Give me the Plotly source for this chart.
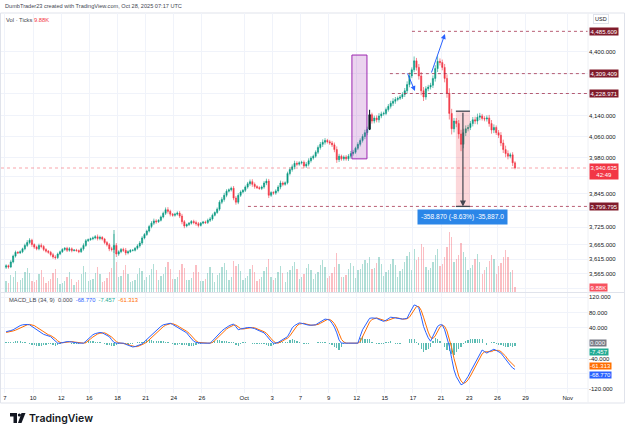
import math
import plotly.graph_objects as go

# ---------------- data ----------------
# x unit = trading day (weekends removed), day 0 = session of Sep 7/8
tick_days = [0, 2, 4, 6, 8, 10, 12, 14, 17, 19, 21, 23, 25, 27, 29, 31, 33, 35, 37, 40]
tick_labels = ["7", "10", "12", "16", "18", "21", "24", "26", "Oct", "3", "7", "9",
               "12", "15", "17", "21", "23", "26", "29", "Nov"]
bars_per_day = 6
first_open = 3587

close = [
    3592, 3588, 3605, 3625, 3638, 3636,
    3640, 3650, 3662, 3672, 3680, 3665,
    3656, 3650, 3662, 3658, 3648, 3642,
    3638, 3630, 3622, 3620, 3632, 3640,
    3648, 3652, 3645, 3650, 3644, 3646,
    3644, 3640, 3650, 3662, 3678, 3682,
    3685, 3688, 3692, 3686, 3690, 3684,
    3672, 3664, 3650, 3648, 3662, 3632,
    3640, 3648, 3645, 3636, 3640, 3645,
    3645, 3652, 3660, 3670, 3688, 3700,
    3712, 3728, 3740, 3748, 3745, 3750,
    3762, 3775, 3788, 3782, 3772, 3768,
    3772, 3776, 3765, 3745, 3730, 3735,
    3740, 3746, 3742, 3738, 3732, 3740,
    3744, 3742, 3750, 3755, 3768, 3778,
    3790, 3815, 3825, 3840, 3855, 3860,
    3866, 3830, 3815, 3840, 3852, 3858,
    3870, 3882, 3890, 3880, 3872, 3868,
    3865, 3870, 3885, 3892, 3840, 3850,
    3848, 3856, 3870, 3885, 3880, 3886,
    3920, 3935, 3945, 3958, 3955, 3960,
    3962, 3948, 3955, 3968, 3978, 3985,
    4000, 4018, 4030, 4038, 4045, 4040,
    4035, 4028, 4010, 3972, 3985, 3975,
    3982, 3975, 3985, 3995, 4000, 4015,
    4030, 4045, 4060, 4075, 4088, 4145,
    4120, 4132, 4125, 4140, 4148, 4150,
    4165, 4178, 4190, 4198, 4205, 4210,
    4215, 4225, 4240, 4265, 4300, 4325,
    4362, 4335, 4300, 4240, 4215, 4248,
    4255, 4262, 4290, 4330, 4360, 4355,
    4335, 4290, 4230, 4150, 4090, 4120,
    4110, 4070, 4030, 4075, 4090, 4095,
    4110, 4125, 4120, 4135, 4140, 4130,
    4128, 4132, 4110, 4085, 4095, 4075,
    4065, 4035, 4010, 3995, 3985, 3990,
    3960, 3940.635,
]
upper_wick = [
    5, 4, 6, 5, 6, 4,   5, 4, 6, 8, 7, 5,   4, 5, 6, 7, 5, 4,   4, 5, 6, 6, 5, 4,
    4, 4, 5, 6, 5, 3,   4, 4, 5, 7, 6, 4,   4, 5, 6, 8, 6, 4,   4, 5, 6, 7, 40, 8,
    5, 5, 6, 8, 5, 4,   4, 4, 6, 7, 6, 5,   5, 6, 7, 8, 6, 4,   5, 6, 8, 9, 6, 4,
    5, 6, 7, 8, 6, 4,   4, 5, 6, 7, 6, 4,   4, 5, 6, 7, 6, 4,   6, 7, 8, 9, 7, 5,
    6, 8, 7, 8, 6, 5,   6, 7, 8, 9, 7, 5,   5, 6, 7, 9, 8, 5,   5, 6, 7, 9, 6, 5,
    7, 8, 9, 10, 8, 6,  6, 7, 8, 9, 7, 6,   7, 8, 9, 11, 9, 6,  7, 8, 9, 12, 9, 6,
    6, 7, 8, 10, 9, 6,  8, 8, 9, 11, 10, 19, 8, 9, 10, 11, 9, 7, 8, 9, 10, 12, 10, 7,
    8, 9, 11, 13, 14, 10, 18, 12, 14, 16, 15, 10, 9, 10, 12, 14, 21, 12,
    12, 14, 16, 20, 18, 12, 12, 14, 16, 15, 13, 10, 10, 11, 12, 14, 12, 8,
    9, 10, 12, 14, 12, 8, 10, 12, 13, 15, 12, 8, 10, 6,
]
lower_wick = [
    6, 6, 4, 5, 5, 4,   4, 5, 5, 6, 6, 8,   6, 5, 5, 6, 6, 5,   5, 6, 6, 7, 5, 4,
    4, 5, 6, 5, 6, 3,   4, 5, 4, 6, 5, 4,   4, 5, 5, 7, 6, 5,   6, 6, 8, 7, 12, 10,
    6, 5, 6, 8, 5, 4,   4, 4, 5, 6, 6, 5,   5, 5, 6, 7, 7, 4,   4, 5, 6, 8, 8, 5,
    5, 5, 7, 9, 8, 5,   5, 5, 6, 7, 7, 4,   4, 5, 5, 6, 6, 4,   5, 6, 7, 8, 7, 5,
    6, 8, 9, 7, 6, 5,   6, 6, 7, 9, 8, 5,   5, 6, 6, 8, 10, 6,  6, 6, 6, 8, 7, 5,
    6, 7, 8, 9, 8, 6,   6, 8, 7, 8, 7, 6,   6, 7, 8, 10, 9, 7,  7, 8, 10, 12, 9, 7,
    7, 7, 8, 9, 8, 6,   7, 8, 8, 10, 10, 3, 10, 9, 10, 11, 9, 7, 7, 8, 9, 11, 10, 7,
    7, 8, 10, 12, 11, 9, 10, 13, 15, 18, 16, 11, 10, 10, 11, 13, 14, 12,
    12, 16, 18, 24, 22, 14, 14, 18, 26, 15, 13, 10, 10, 11, 12, 13, 12, 8,
    9, 10, 12, 14, 12, 9, 11, 12, 13, 14, 12, 8, 12, 5,
]
volume_k = [
    22, 18, 35, 30, 42, 20,   25, 28, 40, 48, 38, 22,   20, 24, 36, 44, 30, 18,
    22, 26, 38, 46, 28, 16,   18, 22, 30, 40, 26, 14,   20, 24, 36, 52, 40, 22,
    24, 26, 38, 50, 36, 20,   22, 28, 40, 48, 125, 60,  30, 32, 44, 54, 36, 20,
    22, 24, 36, 48, 42, 24,   30, 34, 46, 56, 44, 24,   32, 36, 50, 60, 46, 26,
    26, 30, 44, 56, 48, 24,   24, 28, 40, 54, 40, 22,   22, 26, 38, 50, 38, 20,
    34, 38, 50, 58, 44, 24,   30, 62, 52, 56, 42, 24,   28, 32, 46, 54, 40, 22,
    26, 30, 42, 50, 66, 30,   24, 28, 40, 52, 38, 20,   40, 44, 52, 60, 46, 26,
    30, 36, 48, 56, 44, 26,   36, 40, 54, 64, 50, 28,   32, 38, 50, 78, 56, 30,
    30, 34, 46, 58, 52, 28,   44, 46, 56, 64, 58, 70,   46, 48, 58, 70, 56, 32,
    40, 44, 56, 66, 54, 30,   42, 46, 60, 72, 80, 44,   86, 64, 70, 96, 90, 50,
    44, 48, 60, 74, 86, 52,   56, 70, 90, 120, 110, 60, 66, 74, 98, 80, 70, 44,
    48, 54, 66, 76, 60, 36,   44, 50, 62, 74, 66, 36,   52, 58, 70, 84, 70, 40,
    44, 9.88,
]
macd = [
    30, 31, 33, 35, 39, 43,   46, 48, 49, 49, 48, 44,   40, 35, 30, 26, 23, 21,
    19, 17, 11, 5, 0, 0,      2, 3, 4, 4, 3, 2,        0, 0, 0, 0, 5, 11,
    17, 22, 25, 27, 28, 27,   24, 20, 17, 9, 2, 0,     0, 0, 0, -3, -6, -8,
    -10, -9, -7, -4, -2, 4,   10, 16, 22, 27, 33, 38,  44, 48, 50, 52, 52, 49,
    45, 42, 39, 35, 31, 27,   19, 11, 5, 2, 0, 0,      0, 0, 0, 0, 6, 13,
    20, 27, 32, 37, 42, 45,   48, 50, 43, 35, 37, 39,  40, 41, 41, 40, 38, 35,
    32, 30, 27, 20, 12, 5,    0, 0, 2, 6, 10, 13,      17, 28, 40, 46, 50, 53,
    52, 50, 48, 47, 47, 48,   48, 52, 56, 60, 63, 62,  60, 52, 42, 27, 8, 0,
    0, 0, 0, 0, 0, 0,         0, 18, 35, 45, 56, 65,   66, 66, 65, 62, 59, 57,
    60, 64, 68, 67, 66, 64,   63, 63, 64, 65, 78, 90,  100, 98, 92, 70, 44, 28,
    14, 5, 18, 32, 44, 48,    48, 35, 14, -8, -40, -70,
    -88, -100, -109, -106, -97, -87,  -75, -63, -51, -39, -28, -18,
    -22, -26, -22, -19, -16, -19,     -23, -26, -34, -43, -52, -58,
    -65, -68.770,
]
signal = [
    28, 29, 30, 32, 34, 37,   40, 44, 46, 48, 49, 48,  46, 42, 38, 33, 29, 25,
    22, 20, 17, 12, 6, 2,     1, 2, 3, 4, 4, 3,        2, 1, 0, 0, 1, 5,
    11, 16, 21, 24, 26, 27,   27, 24, 21, 16, 10, 4,   1, 0, 0, -1, -3, -6,
    -8, -9, -9, -7, -4, -1,   3, 9, 15, 21, 27, 32,    38, 43, 47, 50, 51, 51,
    49, 46, 42, 39, 35, 31,   26, 19, 12, 6, 2, 1,     0, 0, 0, 0, 2, 7,
    13, 20, 26, 32, 37, 41,   44, 47, 47, 42, 38, 37,  38, 40, 41, 41, 40, 38,
    35, 32, 30, 26, 20, 12,   5, 1, 0, 2, 6, 10,       13, 19, 28, 38, 45, 50,
    52, 52, 50, 48, 47, 47,   48, 49, 52, 56, 60, 62,  62, 58, 51, 40, 25, 10,
    3, 0, 0, 0, 0, 0,         0, 4, 17, 33, 45, 55,    62, 65, 66, 64, 62, 59,
    58, 60, 63, 66, 67, 66,   64, 63, 63, 64, 68, 78,  89, 96, 96, 86, 68, 47,
    29, 15, 12, 19, 32, 42,   47, 44, 32, 13, -12, -40,
    -66, -86, -99, -105, -103, -96,  -86, -75, -63, -51, -39, -28,
    -23, -22, -23, -22, -19, -18,    -19, -22, -27, -34, -43, -50,
    -56, -61.313,
]
highlighted_bar = 155            # the black candle

price_ticks = [4400, 4310, 4230, 4140, 4060, 3980, 3910, 3845, 3785, 3725, 3665, 3615, 3565, 3515]
price_ticks_hidden = [4310, 4230, 3910, 3785, 3515]   # covered by price boxes: grid only
macd_ticks = [120, 80, 40, -40, -80, -120]
macd_ticks_hidden = [-80]

level_prices = [4485.609, 4309.409, 4228.971, 3799.795]
level_start_days = [28.93, 27.36, 27.5, 17.27]
last_price = 3940.635
countdown = "42:49"
last_volume = "9.88K"
legend_values = ["0.000", "-68.770", "-7.457", "-61.313"]

zone_days = [24.66, 25.73]
zone_prices = [3975, 4386]
range_days = [32.05, 33.05]
range_prices = [4158.665, 3799.795]
range_arrow_day = 32.55
range_label = "-358.870 (-8.63%) -35,887.0"
range_label_price = 3763
arrow_lines = [((28.57, 4316), (29.14, 4239)), ((30.28, 4308), (31.27, 4474))]

# ---------------- geometry ----------------
W, H = 625, 433
L, R, T, B = 1, 37, 13, 40
PW, PH = W - L - R, H - T - B


def xp(px):
    return (px - L) / PW


def yp(py):
    return (H - B - py) / PH


x_range = [-0.28, 41.44]
price_log_range = [3.544527, 3.659372]
macd_range = [-130.5, 131.3]
vol_range = [0, 560]

UP, DOWN = "#089981", "#f23645"
FONT = "Liberation Sans, Arial, sans-serif"
TXT = "#131722"

n = min(len(close), len(upper_wick), len(lower_wick), len(volume_k), len(macd), len(signal))
xb = [k / bars_per_day + 0.5 / bars_per_day for k in range(n)]
opens = [first_open] + close[:n - 1]
highs = [max(opens[k], close[k]) + upper_wick[k] for k in range(n)]
lows = [min(opens[k], close[k]) - lower_wick[k] for k in range(n)]
hist = [macd[k] - signal[k] for k in range(n)]
bw = 0.55 / bars_per_day

fig = go.Figure()

# volume
vcol = ["rgba(8,153,129,0.32)" if close[k] >= opens[k] else "rgba(242,54,69,0.32)" for k in range(n)]
fig.add_trace(go.Bar(x=xb, y=volume_k[:n], width=bw, marker=dict(color=vcol, line=dict(width=0)),
                     xaxis="x", yaxis="y3", hoverinfo="skip"))

# zone rectangle (purple)
fig.add_trace(go.Scatter(x=[zone_days[0], zone_days[1], zone_days[1], zone_days[0], zone_days[0]],
                         y=[zone_prices[0], zone_prices[0], zone_prices[1], zone_prices[1], zone_prices[0]],
                         mode="lines", fill="toself", fillcolor="rgba(156,39,176,0.2)",
                         line=dict(color="#9c27b0", width=1), xaxis="x", yaxis="y", hoverinfo="skip"))
# price range box
fig.add_trace(go.Scatter(x=[range_days[0], range_days[1], range_days[1], range_days[0], range_days[0]],
                         y=[range_prices[0], range_prices[0], range_prices[1], range_prices[1], range_prices[0]],
                         mode="lines", fill="toself", fillcolor="rgba(242,54,69,0.2)",
                         line=dict(width=0), xaxis="x", yaxis="y", hoverinfo="skip"))

# candles
fig.add_trace(go.Candlestick(x=xb, open=opens, high=highs, low=lows, close=close[:n],
                             increasing=dict(line=dict(color=UP, width=0.6), fillcolor=UP),
                             decreasing=dict(line=dict(color=DOWN, width=0.6), fillcolor=DOWN),
                             xaxis="x", yaxis="y", hoverinfo="skip"))
hb = highlighted_bar
fig.add_trace(go.Candlestick(x=[xb[hb]], open=[opens[hb]], high=[highs[hb]], low=[lows[hb]], close=[close[hb]],
                             increasing=dict(line=dict(color="#131722", width=1), fillcolor="#131722"),
                             decreasing=dict(line=dict(color="#131722", width=1), fillcolor="#131722"),
                             xaxis="x", yaxis="y", hoverinfo="skip"))

# level lines
for lp, ls in zip(level_prices, level_start_days):
    fig.add_trace(go.Scatter(x=[ls, x_range[1]], y=[lp, lp], mode="lines",
                             line=dict(color="rgba(160,40,70,0.75)", width=1, dash="dot"),
                             xaxis="x", yaxis="y", hoverinfo="skip"))
fig.add_trace(go.Scatter(x=x_range, y=[last_price, last_price], mode="lines",
                         line=dict(color="rgba(242,54,69,0.45)", width=1, dash="dot"),
                         xaxis="x", yaxis="y", hoverinfo="skip"))
# range box edges
for rp in range_prices:
    fig.add_trace(go.Scatter(x=range_days, y=[rp, rp], mode="lines",
                             line=dict(color="#434651", width=1.3), xaxis="x", yaxis="y", hoverinfo="skip"))

# MACD pane
fig.add_trace(go.Bar(x=xb, y=hist, width=bw, marker=dict(color="rgba(38,166,154,0.75)", line=dict(width=0)),
                     xaxis="x", yaxis="y2", hoverinfo="skip"))
fig.add_trace(go.Scatter(x=xb, y=signal[:n], mode="lines", line=dict(color="#ff6d00", width=1),
                         xaxis="x", yaxis="y2", hoverinfo="skip"))
fig.add_trace(go.Scatter(x=xb, y=macd[:n], mode="lines", line=dict(color="#2962ff", width=1),
                         xaxis="x", yaxis="y2", hoverinfo="skip"))

lg = math.log10
ann = []
BOXFONT = dict(size=6, color="white", family=FONT)
# price-axis boxes
for lp in level_prices:
    ann.append(dict(xref="paper", x=1, xanchor="left", xshift=1, yref="y", y=lg(lp), yanchor="middle",
                    text=f"{lp:,.3f}", showarrow=False, bgcolor="#801b2b", borderpad=0.5, font=BOXFONT))
ann.append(dict(xref="paper", x=1, xanchor="left", xshift=1, yref="y", y=lg(last_price), yanchor="top",
                yshift=5, text=f"{last_price:,.3f}<br>{countdown}", showarrow=False, bgcolor="#f23645",
                borderpad=0.5, font=BOXFONT))
ann.append(dict(xref="paper", x=1, xanchor="left", xshift=1, yref="y3", y=volume_k[n - 1], yanchor="middle",
                text=last_volume, showarrow=False, bgcolor="#f7525f", borderpad=0.5, font=BOXFONT))
macd_boxes = [(0.0, legend_values[0], "#787b86", 0), (-7.457, legend_values[2], "#22ab94", -6),
              (-61.313, legend_values[3], "#ff6d00", 1), (-68.770, legend_values[1], "#2962ff", -6)]
for v, t, c, s in macd_boxes:
    ann.append(dict(xref="paper", x=1, xanchor="left", xshift=1, yref="y2", y=v, yanchor="middle", yshift=s,
                    text=t, showarrow=False, bgcolor=c, borderpad=0, font=BOXFONT))
ann.append(dict(xref="paper", x=1, xanchor="left", xshift=5, yref="paper", y=yp(19), yanchor="middle",
                text="USD", showarrow=False, bgcolor="white", bordercolor="#e0e3eb", borderwidth=1,
                borderpad=1, font=dict(size=5.5, color=TXT, family=FONT)))

# headers
ann.append(dict(xref="paper", x=xp(3), xanchor="left", yref="paper", y=yp(6), yanchor="middle",
                text="DumbTrader23 created with TradingView.com, Oct 28, 2025 07:17 UTC", showarrow=False,
                font=dict(size=5.6, color="#434651", family=FONT)))
ann.append(dict(xref="paper", x=xp(4), xanchor="left", yref="paper", y=yp(20), yanchor="middle",
                text=f"Vol · Ticks <span style='color:#f23645'>{last_volume}</span>", showarrow=False,
                font=dict(size=5.8, color="#434651", family=FONT)))
ann.append(dict(xref="paper", x=xp(7), xanchor="left", yref="paper", y=yp(300), yanchor="middle",
                text=(f"MACD_LB (34, 9)  {legend_values[0]}  <span style='color:#2962ff'>{legend_values[1]}</span>  "
                      f"<span style='color:#22ab94'>{legend_values[2]}</span>  "
                      f"<span style='color:#ff6d00'>{legend_values[3]}</span>"),
                showarrow=False, font=dict(size=5.8, color="#434651", family=FONT)))

# drawings
for (a, b) in arrow_lines:
    ann.append(dict(xref="x", yref="y", x=b[0], y=lg(b[1]), axref="x", ayref="y", ax=a[0], ay=lg(a[1]),
                    showarrow=True, arrowhead=2, arrowsize=1, arrowwidth=1, arrowcolor="#2962ff", text=""))
ann.append(dict(xref="x", yref="y", x=range_arrow_day, y=lg(range_prices[1]), axref="x", ayref="y",
                ax=range_arrow_day, ay=lg(range_prices[0]), showarrow=True, arrowhead=2, arrowsize=1,
                arrowwidth=1.2, arrowcolor="#434651", text=""))
ann.append(dict(xref="x", yref="y", x=range_arrow_day, y=lg(range_label_price), xanchor="center",
                yanchor="middle", text=range_label, showarrow=False, bgcolor="#2b86e8", borderpad=3,
                font=dict(size=6.6, color="white", family=FONT)))

# TradingView logo
ann.append(dict(xref="paper", x=xp(27), xanchor="left", yref="paper", y=yp(418), yanchor="middle",
                text="TradingView", showarrow=False,
                font=dict(size=10.5, color="#131722", family="Inter, Liberation Sans", weight=600)))

shapes = [
    dict(type="rect", xref="paper", yref="paper", x0=xp(0.5), x1=xp(624.5), y0=yp(403), y1=yp(13),
         line=dict(color="#e0e3eb", width=1), layer="below"),
    dict(type="line", xref="paper", yref="paper", x0=xp(0.5), x1=xp(624.5), y0=yp(292.5), y1=yp(292.5),
         line=dict(color="#e0e3eb", width=1)),
    dict(type="line", xref="paper", yref="paper", x0=1, x1=1, y0=yp(403), y1=yp(13),
         line=dict(color="#eef0f4", width=1)),
    # logo glyph
    dict(type="rect", xref="paper", yref="paper", x0=xp(10), x1=xp(17), y0=yp(416.5), y1=yp(413),
         fillcolor="#131722", line=dict(width=0)),
    dict(type="rect", xref="paper", yref="paper", x0=xp(13.5), x1=xp(17), y0=yp(423), y1=yp(413),
         fillcolor="#131722", line=dict(width=0)),
    dict(type="circle", xref="paper", yref="paper", x0=xp(17.8), x1=xp(21), y0=yp(416.6), y1=yp(413.4),
         fillcolor="#131722", line=dict(width=0)),
    dict(type="path", xref="paper", yref="paper",
         path=f"M {xp(21.5)},{yp(413)} L {xp(25.5)},{yp(413)} L {xp(21.5)},{yp(423)} L {xp(18)},{yp(423)} Z",
         fillcolor="#131722", line=dict(width=0)),
]

fig.update_layout(
    width=W, height=H, margin=dict(l=L, r=R, t=T, b=B),
    paper_bgcolor="white", plot_bgcolor="white", showlegend=False,
    font=dict(family=FONT, size=6, color=TXT), bargap=0,
    xaxis=dict(range=x_range, anchor="y2", tickmode="array", tickvals=tick_days, ticktext=tick_labels,
               showgrid=True, gridcolor="#f0f3fa", gridwidth=1, zeroline=False, showline=False,
               ticks="", tickfont=dict(size=6, color=TXT), rangeslider=dict(visible=False), fixedrange=True),
    yaxis=dict(domain=[yp(292), 1], type="log", range=price_log_range, side="right", anchor="x",
               tickmode="array", tickvals=price_ticks,
               ticktext=["" if v in price_ticks_hidden else f"{v:,.3f}" for v in price_ticks],
               showgrid=True, gridcolor="#f0f3fa", zeroline=False, showline=False, ticks="",
               tickfont=dict(size=6, color=TXT), fixedrange=True),
    yaxis3=dict(overlaying="y", range=vol_range, visible=False, anchor="x", fixedrange=True),
    yaxis2=dict(domain=[0, yp(293)], range=macd_range, side="right", anchor="x",
                tickmode="array", tickvals=macd_ticks,
                ticktext=["" if v in macd_ticks_hidden else f"{v:.3f}" for v in macd_ticks],
                showgrid=True, gridcolor="#f0f3fa", zeroline=False, showline=False, ticks="",
                tickfont=dict(size=6, color=TXT), fixedrange=True),
    annotations=ann, shapes=shapes,
)

fig.write_html("out.html")
